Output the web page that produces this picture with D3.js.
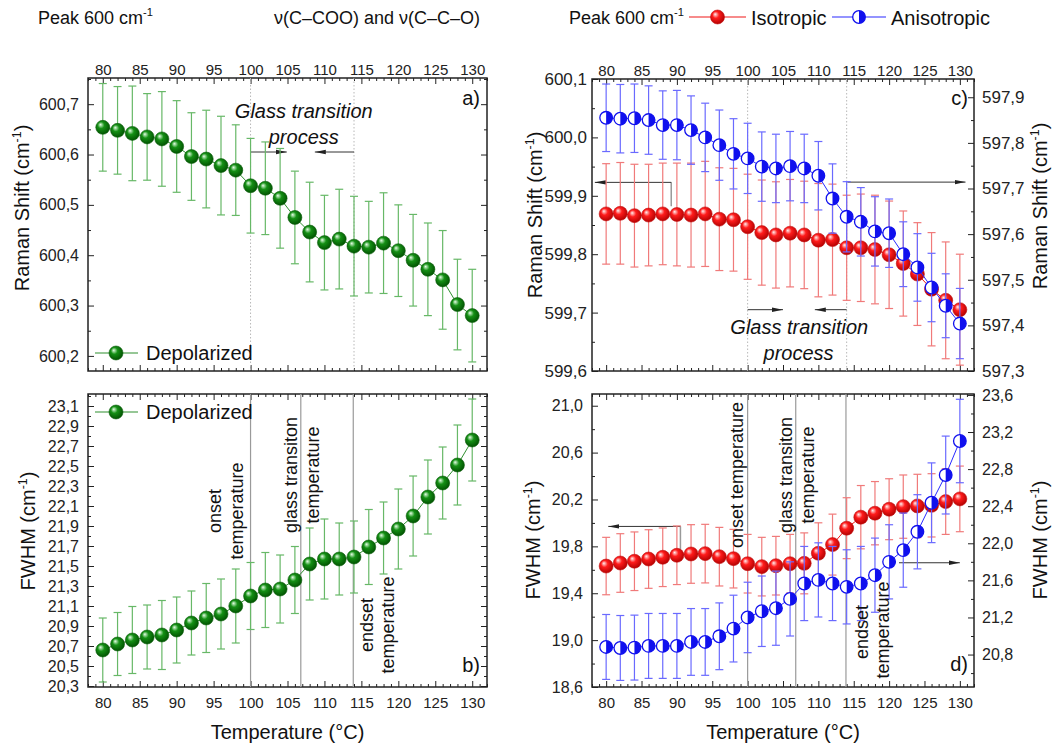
<!DOCTYPE html>
<html>
<head>
<meta charset="utf-8">
<script src="https://cdn.jsdelivr.net/npm/d3@7"></script>
<style>
  body { margin: 0; background: #fff; }
  svg { font-family: "Liberation Sans", Arial, sans-serif; }
  .axis path { display: none; }
  .axis line { stroke: #222; stroke-width: 1; }
  .axis text { fill: #222; font-family: "Liberation Sans", Arial, sans-serif; }
</style>
</head>
<body>
<svg id="chart" width="1056" height="746"></svg>
<script>
var temperature = [80, 82, 84, 86, 88, 90, 92, 94, 96, 98, 100, 102, 104, 106, 108, 110, 112, 114, 116, 118, 120, 122, 124, 126, 128, 130];

// a) depolarized Raman shift
var depolShift = [600.654, 600.648, 600.642, 600.635, 600.631, 600.616, 600.596, 600.591, 600.578, 600.569, 600.538, 600.533, 600.513,
                  600.475, 600.446, 600.425, 600.432, 600.418, 600.416, 600.424, 600.409, 600.390, 600.372, 600.351, 600.302, 600.280];
var depolShiftErr = [0.087, 0.087, 0.094, 0.086, 0.094, 0.091, 0.087, 0.097, 0.098, 0.090, 0.094, 0.092, 0.099,
                     0.092, 0.099, 0.094, 0.099, 0.099, 0.091, 0.100, 0.091, 0.091, 0.092, 0.098, 0.090, 0.092];

// b) depolarized FWHM
var depolFwhm = [20.66, 20.72, 20.76, 20.79, 20.81, 20.86, 20.93, 20.98, 21.02, 21.10, 21.20, 21.26, 21.27,
                 21.36, 21.52, 21.57, 21.57, 21.59, 21.69, 21.78, 21.87, 22.00, 22.19, 22.33, 22.51, 22.76];
var depolFwhmErr = [0.32, 0.315, 0.335, 0.32, 0.345, 0.33, 0.32, 0.345, 0.35, 0.37, 0.335, 0.375, 0.34,
                    0.335, 0.36, 0.40, 0.36, 0.36, 0.375, 0.36, 0.40, 0.40, 0.37, 0.36, 0.40, 0.41];

// c) isotropic (left axis) / anisotropic (right axis) Raman shift
var isoShift = [599.869, 599.870, 599.866, 599.867, 599.869, 599.868, 599.867, 599.869, 599.860, 599.859, 599.847, 599.837, 599.833,
                599.836, 599.833, 599.824, 599.825, 599.811, 599.811, 599.808, 599.799, 599.784, 599.766, 599.740, 599.721, 599.705];
var isoShiftErr = [0.086, 0.087, 0.088, 0.087, 0.087, 0.088, 0.089, 0.090, 0.088, 0.088, 0.090, 0.090, 0.091,
                   0.092, 0.092, 0.097, 0.095, 0.090, 0.092, 0.093, 0.092, 0.090, 0.088, 0.097, 0.100, 0.095];
var anisoShift = [597.855, 597.853, 597.854, 597.850, 597.839, 597.839, 597.828, 597.812, 597.795, 597.776, 597.766, 597.748, 597.744,
                  597.749, 597.744, 597.728, 597.678, 597.638, 597.627, 597.606, 597.602, 597.556, 597.527, 597.483, 597.443, 597.404];
var anisoShiftErr = [0.074, 0.075, 0.075, 0.075, 0.075, 0.076, 0.075, 0.075, 0.077, 0.077, 0.077, 0.076, 0.075,
                     0.076, 0.075, 0.075, 0.076, 0.077, 0.075, 0.076, 0.075, 0.071, 0.074, 0.075, 0.070, 0.077];

// d) isotropic (left axis) / anisotropic (right axis) FWHM
var isoFwhm = [19.632, 19.658, 19.673, 19.692, 19.707, 19.724, 19.735, 19.738, 19.712, 19.695, 19.652, 19.627, 19.635,
               19.652, 19.655, 19.741, 19.815, 19.955, 20.049, 20.083, 20.117, 20.139, 20.145, 20.150, 20.182, 20.205];
var isoFwhmErr = [0.245, 0.25, 0.25, 0.25, 0.25, 0.25, 0.25, 0.25, 0.25, 0.25, 0.25, 0.25, 0.25,
                  0.25, 0.26, 0.26, 0.26, 0.26, 0.27, 0.27, 0.26, 0.27, 0.27, 0.27, 0.28, 0.28];
var anisoFwhm = [20.882, 20.871, 20.875, 20.893, 20.893, 20.893, 20.936, 20.936, 20.997, 21.080, 21.200, 21.267, 21.300,
                 21.400, 21.566, 21.605, 21.566, 21.530, 21.566, 21.656, 21.800, 21.926, 22.124, 22.437, 22.736, 23.103];
var anisoFwhmErr = [0.35, 0.35, 0.35, 0.35, 0.35, 0.35, 0.36, 0.36, 0.36, 0.36, 0.38, 0.38, 0.40,
                    0.40, 0.40, 0.40, 0.40, 0.40, 0.40, 0.40, 0.40, 0.40, 0.40, 0.43, 0.42, 0.45];

var xTickLabels = [80, 85, 90, 95, 100, 105, 110, 115, 120, 125, 130];
var glassWindow = [100, 114];          // dotted lines in a) and c)
var tempMarks = [100, 106.8, 113.9];   // onset / glass transition / endset

(function() {
  var svg = d3.select("#chart"),
      defs = svg.append("defs"),
      xDomain = [78, 132];

  function sphere(id, light, mid, dark) {
    var gr = defs.append("radialGradient").attr("id", id)
        .attr("cx", "0.45").attr("cy", "0.42").attr("r", "0.6").attr("fx", "0.33").attr("fy", "0.3");
    gr.append("stop").attr("offset", "0%").attr("stop-color", light);
    gr.append("stop").attr("offset", "40%").attr("stop-color", mid);
    gr.append("stop").attr("offset", "100%").attr("stop-color", dark);
  }
  sphere("ballGreen", "#e6ffe6", "#159015", "#005000");
  sphere("ballRed", "#fff0f0", "#ff1c1c", "#b00000");

  defs.append("marker").attr("id", "arrow").attr("viewBox", "0 0 10 10")
      .attr("refX", 10).attr("refY", 5).attr("markerWidth", 11).attr("markerHeight", 11)
      .attr("markerUnits", "userSpaceOnUse").attr("orient", "auto")
    .append("path").attr("d", "M0,3L10,5L0,7Z").attr("fill", "#222");

  function comma(dec) { return function(d) { return d.toFixed(dec).replace(".", ","); }; }
  function steps(a, b, s) { return d3.range(Math.round((b - a) / s) + 1).map(function(i) { return +(a + i * s).toFixed(4); }); }
  function minus(all, major) { return all.filter(function(v) { return !major.some(function(m) { return Math.abs(m - v) < 1e-6; }); }); }

  function ticks(g, axisFn, scale, tx, ty, major, minor, pad, fmt, size) {
    g.append("g").attr("class", "axis").attr("transform", "translate(" + tx + "," + ty + ")")
      .call(axisFn(scale).tickValues(minor).tickSize(-3).tickFormat(""));
    g.append("g").attr("class", "axis").attr("transform", "translate(" + tx + "," + ty + ")")
      .call(axisFn(scale).tickValues(major).tickSize(-6).tickPadding(pad).tickFormat(fmt || ""))
      .selectAll("text").style("font-size", size + "px");
  }

  function panel(p) {
    var g = svg.append("g").attr("transform", "translate(" + p.left + "," + p.top + ")");
    var x = d3.scaleLinear().domain(xDomain).range([0, p.width]),
        y = d3.scaleLinear().domain(p.yDomain).range([p.height, 0]),
        y2 = p.y2 ? d3.scaleLinear().domain(p.y2.domain).range([p.height, 0]) : null;

    var xMinor = minus(steps(78, 132, 1), xTickLabels);
    ticks(g, d3.axisTop, x, 0, 0, xTickLabels, xMinor, 3, p.xLabels === "top" ? d3.format("d") : null, 15);
    ticks(g, d3.axisBottom, x, 0, p.height, xTickLabels, xMinor, 10, p.xLabels === "bottom" ? d3.format("d") : null, 15);

    var yMaj = p.yMajor, yMin = minus(p.yMinor, yMaj);
    ticks(g, d3.axisLeft, y, 0, 0, yMaj, yMin, p.yPad, comma(1), p.ySize);
    if (y2) {
      ticks(g, d3.axisRight, y2, p.width, 0, p.y2.major, minus(p.y2.minor, p.y2.major), 8, comma(1), p.ySize);
    } else {
      ticks(g, d3.axisRight, y, p.width, 0, yMaj, yMin, 0, null, 15);
    }

    g.append("rect").attr("width", p.width).attr("height", p.height)
        .attr("fill", "none").attr("stroke", "#222").attr("stroke-width", 1.5);

    return { g: g, x: x, y: y, y2: y2, w: p.width, h: p.height };
  }

  function vlines(P, values, dotted) {
    P.g.selectAll(null).data(values).enter().append("line")
        .attr("x1", function(d) { return P.x(d); }).attr("x2", function(d) { return P.x(d); })
        .attr("y1", 0).attr("y2", P.h)
        .attr("stroke", dotted ? "#b8b8b8" : "#9a9a9a")
        .attr("stroke-width", dotted ? 1 : 1.2)
        .attr("stroke-dasharray", dotted ? "1.5,2" : null);
  }

  function marker(sel, kind) {
    if (kind === "green" || kind === "red") {
      sel.append("circle").attr("r", 7)
          .attr("fill", kind === "green" ? "url(#ballGreen)" : "url(#ballRed)")
          .attr("stroke", kind === "green" ? "#0b5e0b" : "#c21010").attr("stroke-width", 0.6);
    } else {
      sel.append("circle").attr("r", 6.3).attr("fill", "#fff").attr("stroke", "#1010ee").attr("stroke-width", 1.3);
      sel.append("path").attr("d", "M0,-6.3A6.3,6.3 0 0 1 0,6.3Z").attr("fill", "#1010ee");
    }
  }

  var styles = {
    green: { line: "#2f8f2f", bar: "#67b867" },
    red:   { line: "#f01818", bar: "#f07a7a" },
    blue:  { line: "#2a2aff", bar: "#6a6aff" }
  };

  function series(P, yScale, values, errs, kind) {
    var st = styles[kind];
    var pts = temperature.map(function(t, i) { return { t: t, v: values[i], e: errs[i] }; });
    var bars = P.g.append("g").attr("stroke", st.bar).attr("stroke-width", 1.2);
    bars.selectAll(null).data(pts).enter().append("line")
        .attr("x1", function(d) { return P.x(d.t); }).attr("x2", function(d) { return P.x(d.t); })
        .attr("y1", function(d) { return yScale(d.v - d.e); }).attr("y2", function(d) { return yScale(d.v + d.e); });
    [-1, 1].forEach(function(s) {
      bars.selectAll(null).data(pts).enter().append("line")
          .attr("x1", function(d) { return P.x(d.t) - 4; }).attr("x2", function(d) { return P.x(d.t) + 4; })
          .attr("y1", function(d) { return yScale(d.v + s * d.e); }).attr("y2", function(d) { return yScale(d.v + s * d.e); });
    });
    P.g.append("path").datum(pts)
        .attr("fill", "none").attr("stroke", st.line).attr("stroke-width", 1)
        .attr("d", d3.line().x(function(d) { return P.x(d.t); }).y(function(d) { return yScale(d.v); }));
    P.g.selectAll(null).data(pts).enter().append("g")
        .attr("transform", function(d) { return "translate(" + P.x(d.t) + "," + yScale(d.v) + ")"; })
        .each(function() { marker(d3.select(this), kind); });
  }

  function arrow(P, yScale, x0, x1, yv) {
    P.g.append("line")
        .attr("x1", P.x(x0)).attr("x2", P.x(x1)).attr("y1", yScale(yv)).attr("y2", yScale(yv))
        .attr("stroke", "#333").attr("stroke-width", 1).attr("marker-end", "url(#arrow)");
  }

  function stub(P, yScale, xv, y0, y1) {
    P.g.append("line").attr("x1", P.x(xv)).attr("x2", P.x(xv)).attr("y1", yScale(y0)).attr("y2", yScale(y1))
        .attr("stroke", "#999").attr("stroke-width", 1.5);
  }

  function label(P, text, xpx, ypx, size, opts) {
    opts = opts || {};
    var t = P.g.append("text").attr("font-size", size).attr("fill", "#111")
        .attr("text-anchor", opts.anchor || "middle")
        .attr("font-style", opts.italic ? "italic" : null);
    if (opts.rotate) t.attr("transform", "translate(" + xpx + "," + ypx + ") rotate(-90)");
    else t.attr("x", xpx).attr("y", ypx);
    t.text(text);
    return t;
  }

  function superTitle(parent, x, y, main, size, rotate, anchor) {
    var t = parent.append("text").attr("font-size", size).attr("fill", "#111").attr("text-anchor", anchor || "middle");
    if (rotate) t.attr("transform", "translate(" + x + "," + y + ") rotate(-90)");
    else t.attr("x", x).attr("y", y);
    t.append("tspan").text(main);
    t.append("tspan").attr("font-size", size * 0.62).attr("dy", -size * 0.42).text("-1");
    if (main.indexOf("(") >= 0) t.append("tspan").attr("dy", size * 0.42).text(")");
    return t;
  }

  // ---------- panels ----------
  var A = panel({ left: 88, top: 78, width: 399, height: 293, xLabels: "top",
                  yDomain: [600.17, 600.752], yMajor: steps(600.2, 600.7, 0.1), yMinor: steps(600.2, 600.75, 0.05),
                  yPad: 9, ySize: 16 });
  var B = panel({ left: 88, top: 394, width: 399, height: 293, xLabels: "bottom",
                  yDomain: [20.29, 23.22], yMajor: steps(20.3, 23.1, 0.2), yMinor: steps(20.3, 23.2, 0.1),
                  yPad: 9, ySize: 16 });
  var C = panel({ left: 592, top: 79, width: 382, height: 292, xLabels: "top",
                  yDomain: [599.6, 600.1], yMajor: steps(599.6, 600.1, 0.1), yMinor: steps(599.6, 600.1, 0.05),
                  yPad: 5, ySize: 17,
                  y2: { domain: [597.3, 597.94], major: steps(597.3, 597.9, 0.1), minor: steps(597.3, 597.9, 0.05) } });
  var D = panel({ left: 592, top: 394, width: 382, height: 293, xLabels: "bottom",
                  yDomain: [18.6, 21.1], yMajor: steps(18.6, 21.0, 0.4), yMinor: steps(18.6, 21.0, 0.2),
                  yPad: 9, ySize: 16,
                  y2: { domain: [20.45, 23.61], major: steps(20.8, 23.6, 0.4), minor: steps(20.6, 23.6, 0.2) } });

  // ---------- a) ----------
  vlines(A, glassWindow, true);
  arrow(A, A.y, 100, 104.9, 600.605);
  arrow(A, A.y, 114, 108.7, 600.605);
  label(A, "Glass transition", A.x(107.2), 40, 20, { italic: true });
  label(A, "process", A.x(107.2), 66, 20, { italic: true });
  series(A, A.y, depolShift, depolShiftErr, "green");
  label(A, "a)", 392, 27, 20, { anchor: "end" });

  // ---------- b) ----------
  vlines(B, tempMarks, false);
  series(B, B.y, depolFwhm, depolFwhmErr, "green");
  label(B, "onset", 221 - 88, 117, 18, { rotate: true });
  label(B, "temperature", 243 - 88, 117, 18, { rotate: true });
  label(B, "glass transiton", 297 - 88, 81, 18, { rotate: true });
  label(B, "temperature", 319 - 88, 81, 18, { rotate: true });
  label(B, "endset", 373 - 88, 231, 18, { rotate: true });
  label(B, "temperature", 394 - 88, 231, 18, { rotate: true });
  label(B, "b)", 392, 278, 20, { anchor: "end" });

  // ---------- c) ----------
  vlines(C, glassWindow, true);
  arrow(C, C.y, 100, 105, 599.705);
  arrow(C, C.y, 114, 109.5, 599.705);
  label(C, "Glass transition", C.x(107.3), 255, 20, { italic: true });
  label(C, "process", C.x(107.2), 281, 20, { italic: true });
  stub(C, C.y, 89.2, 599.923, 599.882);
  arrow(C, C.y, 89.2, 78.4, 599.923);
  arrow(C, C.y2, 114.1, 130.8, 597.714);
  series(C, C.y, isoShift, isoShiftErr, "red");
  series(C, C.y2, anisoShift, anisoShiftErr, "blue");
  label(C, "c)", 376, 26, 20, { anchor: "end" });

  // ---------- d) ----------
  vlines(D, tempMarks, false);
  stub(D, D.y, 90.5, 19.97, 19.77);
  arrow(D, D.y, 90.5, 80.3, 19.97);
  arrow(D, D.y2, 121.4, 130, 21.79);
  series(D, D.y, isoFwhm, isoFwhmErr, "red");
  series(D, D.y2, anisoFwhm, anisoFwhmErr, "blue");
  label(D, "onset temperature", 743 - 592, 81, 18, { rotate: true });
  label(D, "glass transiton", 792 - 592, 81, 18, { rotate: true });
  label(D, "temperature", 814 - 592, 81, 18, { rotate: true });
  label(D, "endset", 868 - 592, 238, 18, { rotate: true });
  label(D, "temperature", 889 - 592, 236, 18, { rotate: true });
  label(D, "d)", 376, 277, 20, { anchor: "end" });

  // ---------- legends inside panels ----------
  [[A, 275], [B, 18]].forEach(function(l) {
    var P = l[0], yy = l[1];
    P.g.append("line").attr("x1", 7).attr("x2", 50).attr("y1", yy).attr("y2", yy)
        .attr("stroke", styles.green.line).attr("stroke-width", 1.2);
    marker(P.g.append("g").attr("transform", "translate(28," + yy + ")"), "green");
    label(P, "Depolarized", 58, yy + 7, 20, { anchor: "start" });
  });

  // ---------- headers ----------
  superTitle(svg, 38, 24, "Peak 600 cm", 18, false, "start");
  svg.append("text").attr("x", 480).attr("y", 24).attr("font-size", 18).attr("fill", "#111")
      .attr("text-anchor", "end").text("\u03bd(C\u2013COO) and \u03bd(C\u2013C\u2013O)");
  superTitle(svg, 569, 24, "Peak 600 cm", 18, false, "start");
  [["red", 689, 746, "Isotropic"], ["blue", 832, 886, "Anisotropic"]].forEach(function(l) {
    svg.append("line").attr("x1", l[1]).attr("x2", l[2]).attr("y1", 17).attr("y2", 17)
        .attr("stroke", styles[l[0]].line).attr("stroke-width", 1.2);
    marker(svg.append("g").attr("transform", "translate(" + ((l[1] + l[2]) / 2) + ",17)"), l[0]);
    svg.append("text").attr("x", l[2] + 5).attr("y", 25).attr("font-size", 20).attr("fill", "#111").text(l[3]);
  });

  // ---------- axis titles ----------
  superTitle(svg, 29, 208, "Raman Shift (cm", 20, true);
  superTitle(svg, 35, 531, "FWHM (cm", 20, true);
  superTitle(svg, 542, 215, "Raman Shift (cm", 20, true);
  superTitle(svg, 1047, 206, "Raman Shift (cm", 20, true);
  superTitle(svg, 540, 540, "FWHM (cm", 20, true);
  superTitle(svg, 1047, 540, "FWHM (cm", 20, true);
  [287.5, 783].forEach(function(cx) {
    svg.append("text").attr("x", cx).attr("y", 739).attr("font-size", 20).attr("fill", "#111")
        .attr("text-anchor", "middle").text("Temperature (\u00b0C)");
  });
})();
</script>
</body>
</html>
